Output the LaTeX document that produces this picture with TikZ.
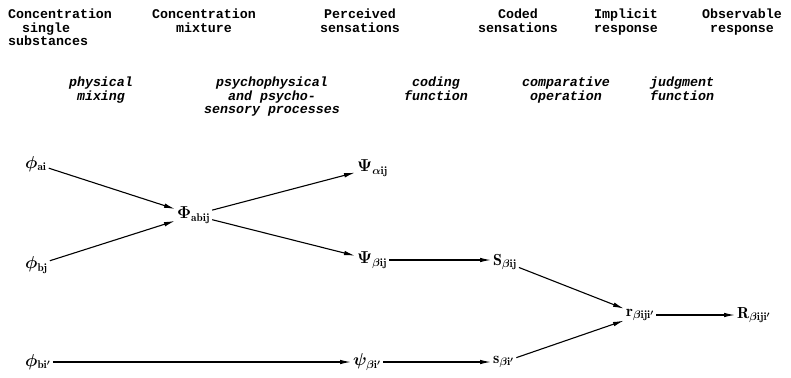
\documentclass[tikz,border=0pt]{standalone}
\usepackage{amsmath}
\usepackage{fontspec}
\setmonofont{Liberation Mono}
\usetikzlibrary{arrows.meta}
\begin{document}
\begin{tikzpicture}[x=1pt,y=-1pt,
  hdr/.style={font=\ttfamily\bfseries\fontsize{13.3}{13.5}\selectfont, align=center, inner sep=0pt, anchor=north},
  fn/.style={font=\ttfamily\bfseries\itshape\fontsize{13.3}{13.5}\selectfont, align=center, inner sep=0pt, anchor=north},
  var/.style={font=\fontsize{16}{16}\selectfont\boldmath, inner sep=2pt, anchor=west},
  arr/.style={-{Latex[length=11pt,width=4.5pt]}, line width=1.1pt}]
\useasboundingbox (0,0) rectangle (791,377);
% header row
\node[hdr, align=left, anchor=north west] (h1) at (8,9) {Concentration\\\hspace*{14pt}single\\substances};
\node[hdr] (h2) at (204,9) {Concentration\\mixture};
\node[hdr] (h3) at (360,9) {Perceived\\sensations};
\node[hdr] (h4) at (518,9) {Coded\\sensations};
\node[hdr] (h5) at (626,9) {Implicit\\response};
\node[hdr] (h6) at (742,9) {Observable\\response};
% function row
\node[fn] (f1) at (101,77) {physical\\mixing};
\node[fn] (f2) at (272,77) {psychophysical\\and psycho-\\sensory processes};
\node[fn] (f3) at (436,77) {coding\\function};
\node[fn] (f4) at (566,77) {comparative\\operation};
\node[fn, align=left, anchor=north west] (f5) at (650,77) {judgment\\function};
% variables
\node[var] (pai) at (23,164) {$\phi_{\mathrm{ai}}$};
\node[var] (pbj) at (23,265) {$\phi_{\mathrm{bj}}$};
\node[var] (pbi) at (23,362) {$\phi_{\mathrm{bi'}}$};
\node[var] (Pab) at (175,215) {$\Phi_{\mathrm{abij}}$};
\node[var] (Psa) at (355,168) {$\Psi_{\alpha\mathrm{ij}}$};
\node[var] (Psb) at (355,260) {$\Psi_{\beta\mathrm{ij}}$};
\node[var] (psb) at (351,362) {$\psi_{\beta\mathrm{i'}}$};
\node[var] (Sb) at (491,262) {$\mathrm{S}_{\beta\mathrm{ij}}$};
\node[var] (sb) at (491,362) {$\mathrm{s}_{\beta\mathrm{i'}}$};
\node[var] (r) at (624,315) {$\mathrm{r}_{\beta\mathrm{iji'}}$};
\node[var] (R) at (735,315) {$\mathrm{R}_{\beta\mathrm{iji'}}$};
% connectors
\draw[arr] (pai) -- (Pab);
\draw[arr] (pbj) -- (Pab);
\draw[arr] (Pab) -- (Psa);
\draw[arr] (Pab) -- (Psb);
\draw[arr] (pbi.east) -- (pbi.east -| psb.west);
\draw[arr] (Psb.east) -- (Psb.east -| Sb.west);
\draw[arr] (psb.east) -- (psb.east -| sb.west);
\draw[arr] (Sb) -- (r);
\draw[arr] (sb) -- (r);
\draw[arr] (r.east) -- (r.east -| R.west);
\end{tikzpicture}
\end{document}
